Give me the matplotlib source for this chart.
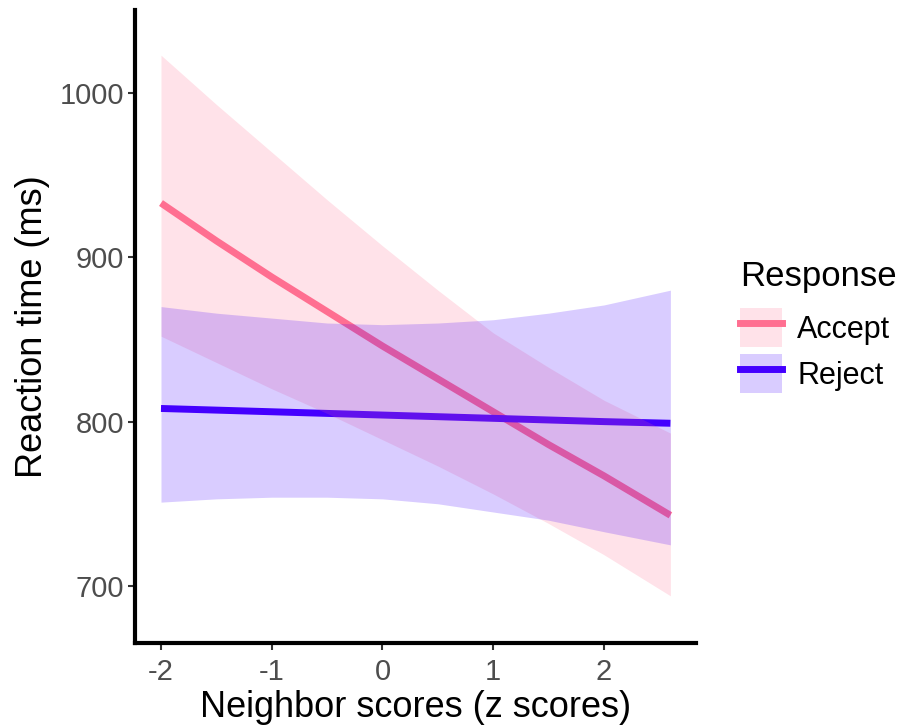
import matplotlib
matplotlib.use("Agg")
import matplotlib.pyplot as plt
from matplotlib.patches import Patch
from matplotlib.lines import Line2D

plt.rcParams['font.family'] = ['Liberation Sans', 'DejaVu Sans']

z = [-2, -1.5, -1, -0.5, 0, 0.5, 1, 1.5, 2, 2.6]

# Accept: fitted RT and confidence band (ms)
accept_fit = [933, 910, 888, 867, 846, 826, 806, 786, 767, 743]
accept_hi = [1023, 993, 964, 935, 907, 880, 854, 833, 813, 793]
accept_lo = [852, 836, 820, 805, 789, 773, 756, 738, 719, 694]

# Reject
reject_fit = [808, 807, 806, 805, 804, 803, 802, 801, 800, 799]
reject_hi = [870, 866, 863, 860, 859, 860, 862, 866, 871, 880]
reject_lo = [751, 753, 754, 754, 753, 750, 745, 740, 733, 725]

groups = ['Accept', 'Reject']
colors = ['#FF6F91', '#4400FF']

fig = plt.figure(figsize=(9.04, 7.28), dpi=100)
ax = fig.add_axes([0.1493, 0.1168, 0.6206, 0.8695])

# lines first, ribbons on top (as in the original)
ax.plot(z, accept_fit, color=colors[0], lw=5, solid_capstyle='butt', zorder=2)
ax.plot(z, reject_fit, color=colors[1], lw=5, solid_capstyle='butt', zorder=2)
ax.fill_between(z, accept_lo, accept_hi, color=colors[0], alpha=0.2, lw=0, zorder=3)
ax.fill_between(z, reject_lo, reject_hi, color=colors[1], alpha=0.2, lw=0, zorder=3)

ax.set_xlim(-2.235, 2.831)
ax.set_ylim(665.3, 1050.5)
ax.set_xticks([-2, -1, 0, 1, 2])
ax.set_xticklabels(['-2', '-1', '0', '1', '2'])
ax.set_yticks([700, 800, 900, 1000])

for s in ['top', 'right']:
    ax.spines[s].set_visible(False)
for s in ['left', 'bottom']:
    ax.spines[s].set_linewidth(3)
    ax.spines[s].set_color('black')
ax.tick_params(axis='both', labelsize=21, labelcolor='#4D4D4D', color='#333333',
               width=1.5, length=5, pad=3)
ax.tick_params(axis='x', pad=5.5)

ax.set_xlabel('Neighbor scores (z scores)', fontsize=26, labelpad=3.5)
ax.set_ylabel('Reaction time (ms)', fontsize=26, labelpad=7)

handles = []
for c in colors:
    handles.append((Patch(facecolor=c, alpha=0.2, edgecolor='none'),
                    Line2D([], [], color=c, lw=5)))
leg = fig.legend(handles, groups, title='Response', loc='upper left',
                 bbox_to_anchor=(0.805, 0.660), frameon=False, fontsize=22,
                 title_fontsize=25, handlelength=1.37, handleheight=1.6,
                 handletextpad=0.5, labelspacing=0.22, borderaxespad=0)
leg._legend_box.align = 'left'
leg._legend_box.sep = 11  # extra room under the title

fig.savefig('out.png', dpi=100)
